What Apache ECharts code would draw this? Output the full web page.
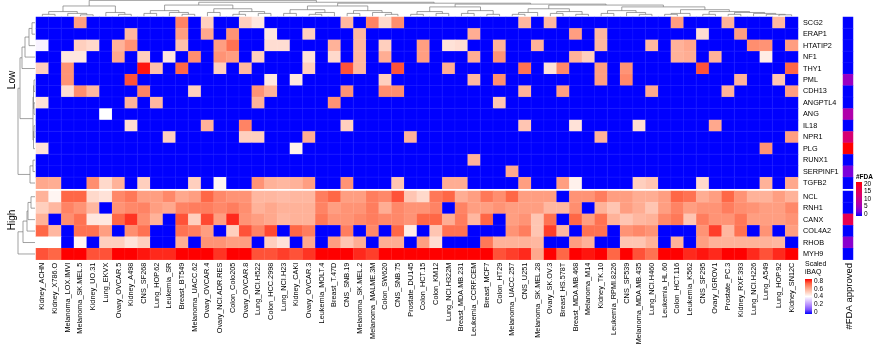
<!DOCTYPE html>
<html><head><meta charset="utf-8">
<script src="https://cdn.jsdelivr.net/npm/echarts@6/dist/echarts.min.js"></script>
<style>html,body{margin:0;padding:0;background:#fff}#c{width:876px;height:361px}</style>
</head><body><div id="c"></div><script>
// ---------- DATA ----------
const cellLines = ['Kidney_ACHN','Kidney_X786.O','Melanoma_LOX.IMVI','Melanoma_SK.MEL.5','Kidney_UO.31','Lung_EKVX','Ovary_OVCAR.5','Kidney_A498','CNS_SF268','Lung_HOP.62',
'Leukemia_SR','Breast_BT549','Melanoma_UACC.62','Ovary_OVCAR.4','Ovary_NCI.ADR.RES','Colon_Colo205','Ovary_OVCAR.8','Lung_NCI.H522','Colon_HCC.2998','Lung_NCI.H23',
'Kidney_CAKI','Ovary_OVCAR.3','Leukemia_MOLT.4','Breast_T.47D','CNS_SNB.19','Melanoma_SK.MEL.2','Melanoma_MALME.3M','Colon_SW620','CNS_SNB.75','Prostate_DU145',
'Colon_HCT.15','Colon_KM12','Lung_NCI.H322M','Breast_MDA.MB.231','Leukemia_CCRF.CEM','Breast_MCF7','Colon_HT29','Melanoma_UACC.257','CNS_U251','Melanoma_SK.MEL.28',
'Ovary_SK.OV.3','Breast_HS.578T','Breast_MDA.MB.468','Melanoma_M14','Kidney_TK.10','Leukemia_RPMI.8226','CNS_SF539','Melanoma_MDA.MB.435','Lung_NCI.H460','Leukemia_HL.60',
'Colon_HCT.116','Leukemia_K562','CNS_SF295','Ovary_IGROV1','Prostate_PC.3','Kidney_RXF.393','Lung_NCI.H226','Lung_A549','Lung_HOP.92','Kidney_SN12C'];

const lowGenes = ['SCG2','ERAP1','HTATIP2','NF1','THY1','PML','CDH13','ANGPTL4','ANG','IL18','NPR1','PLG','RUNX1','SERPINF1','TGFB2'];
const highGenes = ['NCL','RNH1','CANX','COL4A2','RHOB','MYH9'];

// scaled iBAQ per gene (60 cell lines, 0 = not detected)
const SCG2 = [0,0,0,.6,0,0,0,0,0,0, 0,.65,0,.5,0,0,.5,.45,0,0, 0,0,0,0,.55,0,.65,.48,.63,0, 0,0,0,0,0,0,0,0,.55,0, .55,0,0,0,0,0,0,0,0,0, .6,0,0,0,.56,0,0,0,.55,0];
const ERAP1 = [0,0,0,0,0,0,0,.55,0,0, 0,.6,0,.58,0,.62,0,0,.45,0, 0,.5,0,0,0,.55,0,0,0,0, 0,0,0,0,.57,0,0,0,0,0, 0,0,.6,0,.55,0,0,0,0,0, 0,0,.47,0,0,.6,0,0,0,0];
const HTATIP2 = [.38,0,0,.5,.48,0,.56,.62,0,0, 0,.53,0,0,.6,.68,0,0,.47,.47, 0,0,0,.56,0,.55,0,.5,0,0, .6,0,.46,.47,0,0,.56,0,0,.56, 0,0,0,0,.55,0,0,0,.55,0, .56,.58,0,0,0,0,.63,.62,0,.6];
const NF1 = [0,0,.45,.45,0,0,.58,0,.5,0, .45,0,.63,0,.62,.6,0,.5,0,0, 0,.46,0,.48,0,.55,0,.57,0,0, .6,0,0,0,.57,0,.62,0,0,0, 0,0,.56,.5,0,0,0,0,0,0, .56,.57,0,.56,0,0,0,.44,0,0];
const THY1 = [.5,0,.62,0,0,0,0,0,.78,.53, 0,.7,0,0,.5,0,.55,0,0,0, 0,.5,0,0,.72,.55,0,0,.72,0, 0,0,.57,0,0,0,0,0,.68,0, .46,.64,0,0,.6,0,.62,0,0,0, 0,0,.72,0,0,0,0,0,0,.7];
const PML = [0,0,.62,0,0,0,0,.72,0,0, 0,0,0,0,0,0,0,0,.45,0, .45,0,0,0,0,0,0,.5,0,0, 0,0,0,0,.55,0,.63,0,0,0, 0,0,0,0,.6,0,.64,0,0,0, 0,0,0,0,0,.56,0,0,.52,0];
const CDH13 = [0,0,.47,.63,.55,0,0,0,.65,0, 0,0,.5,0,0,0,0,.62,.56,0, 0,0,0,0,.62,0,0,.63,.63,0, 0,0,0,0,0,0,0,0,.56,0, 0,.6,0,0,0,0,0,0,.58,0, 0,0,0,0,.56,0,0,0,0,.6];
const ANGPTL4 = [.46,0,0,0,0,0,0,.56,0,.55, 0,0,0,0,0,0,0,.56,0,0, 0,0,0,.62,0,0,0,0,0,0, 0,0,0,0,0,0,.52,0,0,0, 0,0,0,0,0,0,0,0,0,0, 0,0,0,0,0,0,0,0,0,0];
const ANG = [0,0,0,0,0,.4,0,0,0,0, 0,0,0,0,0,0,0,0,0,0, 0,0,0,0,0,0,0,0,0,0, 0,0,0,0,0,0,0,0,0,0, 0,0,0,0,0,0,0,0,0,0, 0,0,0,0,0,0,0,0,0,0];
const IL18 = [0,0,0,0,0,0,0,.47,0,0, 0,0,0,.56,0,0,.65,0,0,0, 0,0,0,0,.5,0,0,0,0,0, 0,0,0,0,0,0,0,0,.52,0, 0,0,.46,0,0,0,0,.47,0,0, 0,0,0,.58,0,0,0,0,0,0];
const NPR1 = [0,0,0,0,0,0,0,0,0,0, .5,0,0,0,0,0,.5,.5,0,0, 0,.57,0,0,0,0,0,0,0,.56, 0,0,0,0,0,0,0,0,0,0, 0,0,0,0,.56,0,0,0,0,0, 0,0,0,0,0,0,0,0,0,.6];
const PLG = [.46,0,0,0,0,0,0,0,0,0, 0,0,0,0,0,0,0,0,0,0, .43,0,0,0,0,0,0,0,0,0, 0,0,0,0,0,0,0,0,0,0, 0,0,0,0,0,0,0,0,0,0, 0,0,0,0,0,0,0,.62,0,0];
const RUNX1 = [0,0,0,0,0,0,0,0,0,0, 0,0,0,0,0,0,0,0,0,0, 0,0,0,0,0,0,0,0,0,0, 0,0,0,0,.56,0,0,0,0,0, 0,0,0,0,0,0,0,0,0,0, 0,0,0,0,0,0,0,0,0,0];
const SERPINF1 = [0,0,0,0,0,0,0,0,0,0, 0,0,0,0,0,0,0,0,0,0, 0,0,0,0,0,0,0,0,0,0, 0,0,0,0,0,0,0,.58,0,0, 0,0,0,0,0,0,0,0,0,0, 0,0,0,0,0,0,0,0,0,0];
const TGFB2 = [.58,.57,0,0,.63,.48,.56,0,.5,0, 0,0,.5,0,.42,0,0,.62,.56,.55, .56,.6,0,0,.62,0,0,0,.52,0, 0,0,.57,.57,0,0,0,0,.6,0, 0,.6,.43,0,0,0,0,.5,.52,0, 0,0,.48,0,0,0,0,.56,0,.58];

const NCL = [.56,.42,.7,.7,.48,.46,.64,.67,.6,.6, .64,.58,.6,.7,.64,.62,.62,.55,.55,.54, .55,.55,.66,.7,.6,.6,.66,.64,.72,.52, .48,.67,.7,.57,.6,.67,.63,.7,.6,.6, .6,0,.62,.62,.66,.6,.6,.57,.57,.6, .7,.68,.57,.6,.7,.62,.56,.56,.6,.56];
const RNH1 = [.5,.55,.65,.62,.55,0,.62,.64,.65,.6, .58,.65,.66,.66,.64,.66,.63,.56,.58,.56, .56,.56,.65,.6,.62,.62,.66,.57,.64,.62, .62,.65,0,.65,.6,.6,.62,.6,.6,.6, .55,.55,.63,0,.56,.52,.6,.57,.52,.6, .65,.6,.62,.62,.66,.63,.62,.6,.6,.64];
const CANX = [.56,0,.63,.68,.45,.45,.7,.75,.63,.56, 0,.72,.5,.73,.6,.76,.62,.6,.58,.55, .56,.56,.67,.62,.62,.64,.66,.64,.64,.62, .7,.7,.57,.66,.55,.7,0,.6,.62,.52, .68,0,.7,.6,.68,.56,.52,.55,.56,.64, .67,.52,.66,.62,.62,.67,.6,.6,.6,.62];
const COL4A2 = [.7,.55,0,.68,.68,.6,0,.63,.68,0, 0,.68,.66,.6,0,.5,.72,.65,.73,0, .7,.66,0,0,.66,0,.64,0,.7,.44, 0,.52,.68,.68,0,0,0,.62,.66,.52, .74,.55,0,.68,.68,0,.62,.64,.62,0, 0,0,.62,.74,.55,.68,0,.62,0,.6];
const RHOB = [.4,.4,0,.42,0,.5,.5,.46,.5,0, 0,.57,0,.62,.62,.6,.6,0,.5,.46, 0,.58,0,.6,.52,.57,0,.57,.57,0, .6,.47,0,0,0,.67,.56,.56,.56,.55, 0,0,.6,.56,0,0,.52,.52,.56,0, .56,0,.6,.56,.56,.56,.56,.56,.55,0];
const MYH9 = [.72,.7,.8,.85,.72,.72,.85,.85,.78,.76, .76,.85,.85,.85,.75,.85,.8,.72,.72,.74, .72,.75,.85,.8,.8,.76,.74,.85,.8,.8, .82,.85,.82,.85,.8,.85,.72,.74,.76,.58, .85,.7,.85,.78,.85,.7,.8,.72,.68,.82, .82,.76,.78,.76,.8,.85,.76,.72,.76,.85];

const lowRows = [SCG2,ERAP1,HTATIP2,NF1,THY1,PML,CDH13,ANGPTL4,ANG,IL18,NPR1,PLG,RUNX1,SERPINF1,TGFB2];
const highRows = [NCL,RNH1,CANX,COL4A2,RHOB,MYH9];

// number of FDA approved drugs per gene
const fdaLow = [0,0,0,0,0,5,0,0,7,0,12,20,0,3,0];
const fdaHigh = [0,0,15,0,4,0];

const iBAQTicks = [0.8,0.6,0.4,0.2,0];
const fdaTicks = [20,15,10,5,0];

// dendrograms: [height, left, right]; leaves are indices
const colTree = [17,
  [11,[5,[2,0,1],[3,2,[1.5,3,4]]],[4,5,[2,6,7]]],
  [15,
    [12,[6,[3,8,9],[4,10,[2,11,12]]],[8,[4,13,14],[5,[2,15,16],[3,17,18]]]],
    [14,
      [11,[7,[3,19,20],[4,[2,21,22],23]],[6,[3,24,25],[4,26,[2,27,28]]]],
      [13,
        [10,[5,[2,29,30],[3,31,32]],[6,[3,33,34],[2,35,36]]],
        [12,
          [8,[4,[2,37,38],39],[5,[3,40,41],[2,42,43]]],
          [10,[6,[3,44,45],[4,46,[2,47,48]]],[7,[3,[2,49,50],51],[5,[2,52,53],[4,[2,54,55],[3,56,[2,57,[1.5,58,59]]]]]]]
        ]]]]];
const lowTree = [17,[15,[13,[10,[6,[3,0,1],2],3],4],[2,[1.5,[1,5,6],[1,7,8]],[1.5,[1,9,10],11]]],[5,[2,12,13],14]];
const highTree = [17,[12,[8,[7,[4,0,1],2],3],4],5];

// ---------- CHART ----------
const iBAQColors = ['#0000FF','#7C52FF','#B38AFF','#DCC4FF','#FFFFFF','#FFCFBE','#FF9E81','#FF6746','#FF0000'];
const fdaColors = ['#0000FF','#7300E0','#9A00C2','#B500A5','#C90088','#DA006C','#E8004F','#F40031','#FF0000'];
const FONT = 'Liberation Sans, Arial, sans-serif';

const chart = echarts.init(document.getElementById('c'));
const lowData = [], highData = [];
lowRows.forEach((row, r) => row.forEach((v, c) => lowData.push([c, r, v])));
highRows.forEach((row, r) => row.forEach((v, c) => highData.push([c, r, v])));
const fdaLowData = fdaLow.map((v, r) => [0, r, v]);
const fdaHighData = fdaHigh.map((v, r) => [0, r, v]);

const L = 36, W = 762, T1 = 17, H1 = 171.75, T2 = 191, H2 = 68.7, FL = 843, FW = 10;
const cellStyle = {borderColor:'rgba(255,255,255,0.1)', borderWidth:0.6};
const hiddenAxis = {axisLine:{show:false}, axisTick:{show:false}, axisLabel:{show:false}, splitLine:{show:false}};

chart.setOption({
  animation:false,
  grid:[
    {left:L, top:T1, width:W, height:H1},
    {left:L, top:T2, width:W, height:H2},
    {left:FL, top:T1, width:FW, height:H1},
    {left:FL, top:T2, width:FW, height:H2}
  ],
  xAxis:[
    Object.assign({type:'category', gridIndex:0, data:cellLines}, hiddenAxis),
    {type:'category', gridIndex:1, data:cellLines, axisLine:{show:false}, axisTick:{show:false},
     axisLabel:{rotate:90, interval:0, fontSize:7.3, margin:3, color:'#000', fontFamily:FONT}},
    Object.assign({type:'category', gridIndex:2, data:['fda']}, hiddenAxis),
    Object.assign({type:'category', gridIndex:3, data:['fda']}, hiddenAxis)
  ],
  yAxis:[
    {type:'category', gridIndex:0, data:lowGenes, inverse:true, position:'right', axisLine:{show:false}, axisTick:{show:false},
     axisLabel:{fontSize:7.3, margin:5, color:'#000', fontFamily:FONT}},
    {type:'category', gridIndex:1, data:highGenes, inverse:true, position:'right', axisLine:{show:false}, axisTick:{show:false},
     axisLabel:{fontSize:7.3, margin:5, color:'#000', fontFamily:FONT}},
    Object.assign({type:'category', gridIndex:2, data:lowGenes, inverse:true}, hiddenAxis),
    Object.assign({type:'category', gridIndex:3, data:highGenes, inverse:true}, hiddenAxis)
  ],
  visualMap:[
    {type:'continuous', show:false, seriesIndex:[0,1], min:0, max:0.8, inRange:{color:iBAQColors}},
    {type:'continuous', show:false, seriesIndex:[2,3], min:0, max:20, inRange:{color:fdaColors}}
  ],
  series:[
    {type:'heatmap', xAxisIndex:0, yAxisIndex:0, data:lowData, itemStyle:cellStyle, emphasis:{disabled:true}},
    {type:'heatmap', xAxisIndex:1, yAxisIndex:1, data:highData, itemStyle:cellStyle, emphasis:{disabled:true}},
    {type:'heatmap', xAxisIndex:2, yAxisIndex:2, data:fdaLowData, itemStyle:cellStyle, emphasis:{disabled:true}},
    {type:'heatmap', xAxisIndex:3, yAxisIndex:3, data:fdaHighData, itemStyle:cellStyle, emphasis:{disabled:true}}
  ]
});

// ---------- dendrograms + legends as graphics ----------
const gfx = [];
const lineStyle = {stroke:'#7a7a7a', lineWidth:0.7, fill:null};
function drawTree(node, leafPos, hToCoord, vertical) {
  if (typeof node === 'number') return {pos:leafPos(node), h:0};
  const a = drawTree(node[1], leafPos, hToCoord, vertical);
  const b = drawTree(node[2], leafPos, hToCoord, vertical);
  const ha = hToCoord(a.h), hb = hToCoord(b.h), hn = hToCoord(node[0]);
  const pts = vertical
    ? [[a.pos, ha],[a.pos, hn],[b.pos, hn],[b.pos, hb]]
    : [[ha, a.pos],[hn, a.pos],[hn, b.pos],[hb, b.pos]];
  gfx.push({type:'polyline', silent:true, shape:{points:pts}, style:lineStyle});
  return {pos:(a.pos + b.pos) / 2, h:node[0]};
}
drawTree(colTree, i => chart.convertToPixel({xAxisIndex:0}, cellLines[i]), h => T1 - 0.8 - h * (15.8 / 17), true);
drawTree(lowTree, i => chart.convertToPixel({yAxisIndex:0}, lowGenes[i]), h => L - 1 - h, false);
drawTree(highTree, i => chart.convertToPixel({yAxisIndex:1}, highGenes[i]), h => L - 1 - h, false);

function txt(x, y, s, opt) {
  gfx.push({type:'text', silent:true, x:x, y:y, rotation:(opt && opt.rot) || 0,
    style:Object.assign({text:s, fill:'#000', font:'7px ' + FONT, align:'left', verticalAlign:'middle'}, opt && opt.style)});
}
// split titles
txt(12, 80, 'Low', {rot:Math.PI/2, style:{font:'10px ' + FONT, align:'center'}});
txt(12, 220, 'High', {rot:Math.PI/2, style:{font:'10px ' + FONT, align:'center'}});
// annotation name
txt(849, 263, '#FDA approved', {rot:Math.PI/2, style:{font:'9.5px ' + FONT, align:'right'}});

// Scaled iBAQ legend
const iL = 805, iTop = 279, iH = 35, iW = 7;
txt(iL, 264, 'Scaled', {style:{font:'7px ' + FONT}});
txt(iL, 272, 'iBAQ', {style:{font:'7px ' + FONT}});
gfx.push({type:'rect', silent:true, shape:{x:iL, y:iTop, width:iW, height:iH},
  style:{fill:new echarts.graphic.LinearGradient(0, 1, 0, 0,
    iBAQColors.map((c, k) => ({offset:k / (iBAQColors.length - 1), color:c})))}});
iBAQTicks.forEach(v => txt(iL + iW + 2, iTop + 2 + (0.8 - v) / 0.8 * (iH - 4), String(v), {style:{font:'6.5px ' + FONT}}));

// #FDA legend
const fL = 856, fTop = 182, fH = 34, fW = 6;
txt(fL, 177, '#FDA', {style:{font:'bold 6.5px ' + FONT}});
gfx.push({type:'rect', silent:true, shape:{x:fL, y:fTop, width:fW, height:fH},
  style:{fill:new echarts.graphic.LinearGradient(0, 1, 0, 0,
    fdaColors.map((c, k) => ({offset:k / (fdaColors.length - 1), color:c})))}});
fdaTicks.forEach(v => txt(fL + fW + 2, fTop + 2 + (20 - v) / 20 * (fH - 4), String(v), {style:{font:'6.5px ' + FONT}}));

chart.setOption({graphic:{elements:gfx}});
</script></body></html>
